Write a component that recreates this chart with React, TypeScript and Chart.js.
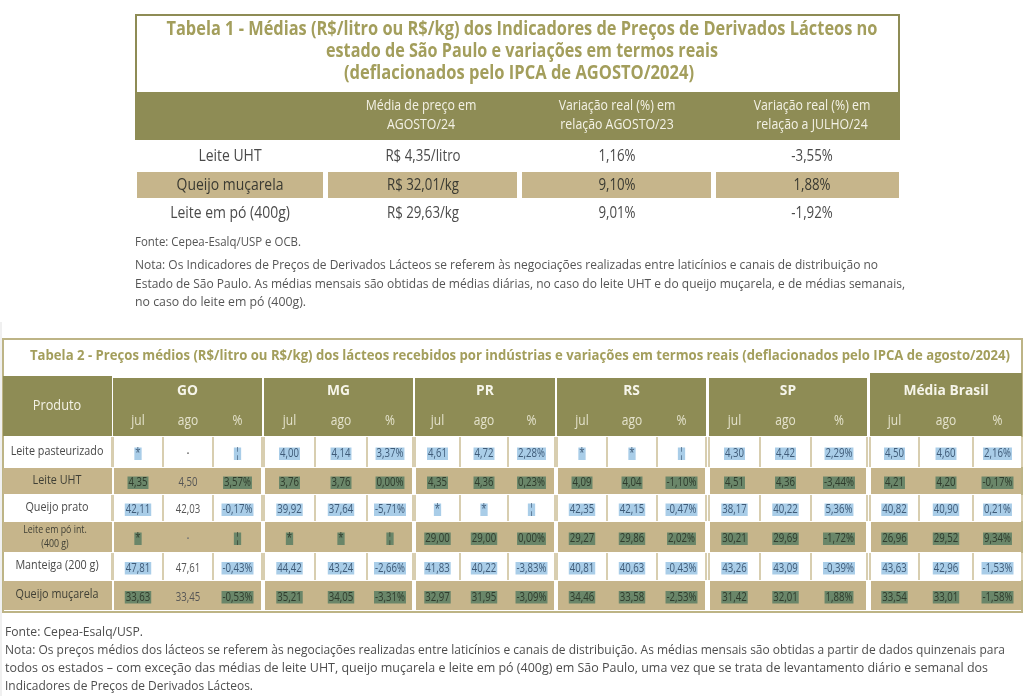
import React, { useEffect, useRef } from 'react';
import { Chart, registerables } from 'chart.js';
Chart.register(...registerables);

// ---------- Tabela 1 data ----------
const T1_TITLE = [
  'Tabela 1 - Médias (R$/litro ou R$/kg) dos Indicadores de Preços de Derivados Lácteos no',
  'estado de São Paulo e variações em termos reais',
  '(deflacionados pelo IPCA de AGOSTO/2024)',
];
const T1_HEADERS = [
  ['Média de preço em', 'AGOSTO/24'],
  ['Variação real (%) em', 'relação AGOSTO/23'],
  ['Variação real (%) em', 'relação a JULHO/24'],
];
const T1_PRODUCTS = ['Leite UHT', 'Queijo muçarela', 'Leite em pó (400g)'];
const T1_PRICE = [4.35, 32.01, 29.63];
const T1_UNIT = ['litro', 'kg', 'kg'];
const T1_VAR_AGO23 = [1.16, 9.1, 9.01];
const T1_VAR_JUL24 = [-3.55, 1.88, -1.92];
const T1_NOTES = [
  'Fonte: Cepea-Esalq/USP e OCB.',
  'Nota: Os Indicadores de Preços de Derivados Lácteos se referem às negociações realizadas entre laticínios e canais de distribuição no',
  'Estado de São Paulo. As médias mensais são obtidas de médias diárias, no caso do leite UHT e do queijo muçarela, e de médias semanais,',
  'no caso do leite em pó (400g).',
];

// ---------- Tabela 2 data ----------
const T2_TITLE =
  'Tabela 2 - Preços médios (R$/litro ou R$/kg) dos lácteos recebidos por indústrias e variações em termos reais (deflacionados pelo IPCA de agosto/2024)';
const T2_PRODUCTS = [
  ['Leite pasteurizado'],
  ['Leite UHT'],
  ['Queijo prato'],
  ['Leite em pó int.', '(400 g)'],
  ['Manteiga (200 g)'],
  ['Queijo muçarela'],
];
const T2_REGIONS = ['GO', 'MG', 'PR', 'RS', 'SP', 'Média Brasil'];
const T2_SUBHEAD = ['jul', 'ago', '%'];

const GO_JUL = [null, 4.35, 42.11, null, 47.81, 33.63];
const GO_AGO = [null, 4.5, 42.03, null, 47.61, 33.45];
const GO_PCT = [null, 3.57, -0.17, null, -0.43, -0.53];
const MG_JUL = [4.0, 3.76, 39.92, null, 44.42, 35.21];
const MG_AGO = [4.14, 3.76, 37.64, null, 43.24, 34.05];
const MG_PCT = [3.37, 0.0, -5.71, null, -2.66, -3.31];
const PR_JUL = [4.61, 4.35, null, 29.0, 41.83, 32.97];
const PR_AGO = [4.72, 4.36, null, 29.0, 40.22, 31.95];
const PR_PCT = [2.28, 0.23, null, 0.0, -3.83, -3.09];
const RS_JUL = [null, 4.09, 42.35, 29.27, 40.81, 34.46];
const RS_AGO = [null, 4.04, 42.15, 29.86, 40.63, 33.58];
const RS_PCT = [null, -1.1, -0.47, 2.02, -0.43, -2.53];
const SP_JUL = [4.3, 4.51, 38.17, 30.21, 43.26, 31.42];
const SP_AGO = [4.42, 4.36, 40.22, 29.69, 43.09, 32.01];
const SP_PCT = [2.29, -3.44, 5.36, -1.72, -0.39, 1.88];
const BR_JUL = [4.5, 4.21, 40.82, 26.96, 43.63, 33.54];
const BR_AGO = [4.6, 4.2, 40.9, 29.52, 42.96, 33.01];
const BR_PCT = [2.16, -0.17, 0.21, 9.34, -1.53, -1.58];

const T2_NOTES = [
  'Fonte: Cepea-Esalq/USP.',
  'Nota: Os preços médios dos lácteos se referem às negociações realizadas entre laticínios e canais de distribuição. As médias mensais são obtidas a partir de dados quinzenais para',
  'todos os estados – com exceção das médias de leite UHT, queijo muçarela e leite em pó (400g) em São Paulo, uma vez que se trata de levantamento diário e semanal dos',
  'Indicadores de Preços de Derivados Lácteos.',
];

// ---------- styling / layout ----------
const FONT = "'Open Sans', 'Noto Sans', sans-serif";
const OLIVE = '#8e8c55';
const TAN = '#c6b58b';
const TITLE_COL = '#a39e5c';
const TEXT = '#4a4a4a';
const LINE = '#d8ceb0';

const fmt = (v: number) => v.toFixed(2).replace('.', ',');

export default function App() {
  const ref = useRef<HTMLCanvasElement | null>(null);
  useEffect(() => {
    document.body.style.margin = '0';
    const canvas = ref.current!;
    const tablePlugin = {
      id: 'tables',
      afterDraw(chart: any) {
        const ctx: CanvasRenderingContext2D = chart.ctx;
        const sx = chart.scales.x;
        const sy = chart.scales.y;
        const X = (v: number) => sx.getPixelForValue(v);
        const Y = (v: number) => sy.getPixelForValue(v);
        const rect = (x0: number, y0: number, x1: number, y1: number, c: string) => {
          ctx.fillStyle = c;
          ctx.fillRect(X(x0), Y(y0), X(x1) - X(x0), Y(y1) - Y(y0));
        };
        const vline = (x: number, y0: number, y1: number, c: string, w = 2) => {
          ctx.fillStyle = c;
          ctx.fillRect(X(x) - w / 2, Y(y0), w, Y(y1) - Y(y0));
        };
        const txt = (
          s: string, x: number, y: number,
          o: { size: number; weight?: string; color?: string; align?: CanvasTextAlign; cond?: number; width?: number }
        ) => {
          ctx.save();
          ctx.font = `${o.weight || 'normal'} ${o.size}px ${FONT}`;
          ctx.fillStyle = o.color || TEXT;
          ctx.textAlign = o.align || 'center';
          ctx.textBaseline = 'middle';
          const w = ctx.measureText(s).width;
          const k = o.width !== undefined ? o.width / w : (o.cond ?? 0.82);
          ctx.translate(X(x), Y(y));
          ctx.scale(k, 1);
          ctx.fillText(s, 0, 0);
          ctx.restore();
          return w * k;
        };
        const measure = (s: string, size: number, cond = 0.82, weight = 'normal') => {
          ctx.save();
          ctx.font = `${weight} ${size}px ${FONT}`;
          const w = ctx.measureText(s).width * cond;
          ctx.restore();
          return w;
        };

        rect(0, 0, 1024, 696, '#ffffff');

        // ================= Tabela 1 =================
        ctx.strokeStyle = OLIVE;
        ctx.lineWidth = 2;
        ctx.strokeRect(X(136), Y(15), X(899) - X(136), Y(93) - Y(15));
        txt(T1_TITLE[0], 522, 30, { size: 19, weight: 'bold', color: TITLE_COL, width: 711 });
        txt(T1_TITLE[1], 522, 52, { size: 19, weight: 'bold', color: TITLE_COL, width: 392 });
        txt(T1_TITLE[2], 519, 74, { size: 19, weight: 'bold', color: TITLE_COL, width: 350 });
        rect(135, 92, 900, 140, OLIVE);
        const t1Centers = [230, 421, 617, 812];
        T1_HEADERS.forEach((h, i) => {
          txt(h[0], t1Centers[i + 1], 106, { size: 14.5, color: '#f4f2e6', cond: 0.85 });
          txt(h[1], t1Centers[i + 1], 125, { size: 14.5, color: '#f4f2e6', cond: 0.85 });
        });
        const t1Cells = [[137, 323], [328, 517], [522, 711], [716, 899]];
        const t1RowY = [156, 185, 213];
        T1_PRODUCTS.forEach((p, r) => {
          if (r === 1) t1Cells.forEach(([a, b]) => rect(a, 172, b, 198, TAN));
          const y = t1RowY[r];
          const c = r === 1 ? '#3a3a32' : TEXT;
          txt(p, t1Centers[0], y, { size: 17, color: c, cond: 0.82 });
          txt(`R$ ${fmt(T1_PRICE[r])}/${T1_UNIT[r]}`, t1Centers[1] + 2, y, { size: 16, color: c, cond: 0.83 });
          txt(`${fmt(T1_VAR_AGO23[r])}%`, t1Centers[2], y, { size: 16, color: c, cond: 0.83 });
          txt(`${fmt(T1_VAR_JUL24[r])}%`, t1Centers[3], y, { size: 16, color: c, cond: 0.83 });
        });
        const n1Y = [242, 265, 284, 302];
        const n1W = [166, 743, 770, 171];
        T1_NOTES.forEach((s, i) =>
          txt(s, 135, n1Y[i], { size: 13.5, color: '#555', align: 'left', width: n1W[i] })
        );

        // ================= Tabela 2 =================
        vline(1, 322, 696, '#e2e2e2', 1);
        ctx.strokeStyle = '#bdb486';
        ctx.lineWidth = 2;
        ctx.strokeRect(X(3), Y(339), X(1022) - X(3), Y(612) - Y(339));
        txt(T2_TITLE, 520, 356, { size: 14, weight: 'bold', color: TITLE_COL, width: 980 });

        const groups = [[113, 262], [264, 413], [415, 555], [557, 706], [709, 867], [870, 1022]];
        const sub = [
          [113, 163, 213, 262], [264, 315, 367, 413], [415, 460, 508, 555],
          [557, 607, 657, 706], [709, 760, 811, 867], [870, 919, 973, 1022],
        ];
        rect(3, 376, 112, 436, OLIVE);
        txt('Produto', 57, 406, { size: 15, color: '#f4f2e6', cond: 0.85 });
        groups.forEach(([a, b], g) => {
          rect(a, g === 5 ? 373 : 378, b, 436, OLIVE);
          txt(T2_REGIONS[g], (a + b) / 2, 391, { size: 15, weight: 'bold', color: '#f6f5ea', cond: 0.92 });
          for (let k = 0; k < 3; k++) {
            txt(T2_SUBHEAD[k], (sub[g][k] + sub[g][k + 1]) / 2, 421, { size: 15, color: '#e4e2cc', cond: 0.8 });
          }
        });

        const rows = [[437, 467], [468, 494], [495, 521], [522, 552], [553, 580], [581, 610]];
        const jul = [GO_JUL, MG_JUL, PR_JUL, RS_JUL, SP_JUL, BR_JUL];
        const ago = [GO_AGO, MG_AGO, PR_AGO, RS_AGO, SP_AGO, BR_AGO];
        const pct = [GO_PCT, MG_PCT, PR_PCT, RS_PCT, SP_PCT, BR_PCT];

        rows.forEach(([y0, y1], r) => {
          const tan = r % 2 === 1;
          if (tan) {
            rect(3, y0, 112, y1, TAN);
            groups.forEach(([a, b]) => rect(a + 1, y0, b - 1, y1, TAN));
          } else {
            vline(112, y0, y1, LINE);
            sub.forEach((cols) => cols.forEach((x) => vline(x, y0, y1, LINE)));
          }
          const yc = (y0 + y1) / 2;
          const lab = T2_PRODUCTS[r];
          const lc = tan ? '#3f3f35' : TEXT;
          if (lab.length === 1) {
            txt(lab[0], 57, yc - 1, { size: 13.5, color: lc, cond: 0.8 });
          } else {
            txt(lab[0], 55, yc - 7, { size: 11, color: lc, cond: 0.8 });
            txt(lab[1], 55, yc + 7, { size: 11, color: lc, cond: 0.8 });
          }
          groups.forEach((_, g) => {
            const vals = [jul[g][r], ago[g][r], pct[g][r]];
            vals.forEach((v, k) => {
              const cx = (sub[g][k] + sub[g][k + 1]) / 2;
              const vy = yc + 2;
              let s: string;
              if (v === null) s = k === 2 ? '¦' : '*';
              else s = k === 2 ? `${fmt(v)}%` : fmt(v);
              const hl = !(g === 0 && k === 1);
              const size = 12;
              const w = measure(s, size, 0.8);
              if (hl) {
                rect(cx - w / 2 - 1, vy - 6.5, cx + w / 2 + 1, vy + 6, tan ? '#6a8669' : '#a9cde8');
              }
              const col = hl ? (tan ? '#2f3b2c' : '#3f5b78') : '#555';
              if (!hl && v === null) {
                txt('•', cx, vy, { size: 8, color: '#777', cond: 1 });
              } else {
                txt(s, cx, vy, { size, color: col, cond: 0.8 });
              }
            });
          });
        });

        const n2Y = [632, 650, 668, 686];
        const n2W = [138, 1000, 983, 248];
        T2_NOTES.forEach((s, i) =>
          txt(s, 5, n2Y[i], { size: 13, color: '#4d4d4d', align: 'left', width: n2W[i] })
        );
      },
    };

    const chart = new Chart(canvas, {
      type: 'scatter',
      data: { datasets: [{ data: [], pointRadius: 0 }] },
      options: {
        animation: false,
        responsive: false,
        events: [],
        layout: { padding: 0 },
        plugins: { legend: { display: false }, tooltip: { enabled: false } },
        scales: {
          x: { type: 'linear', min: 0, max: 1024, display: false },
          y: { type: 'linear', min: 0, max: 696, reverse: true, display: false },
        },
      },
      plugins: [tablePlugin],
    });
    return () => chart.destroy();
  }, []);

  return (
    <div style={{ position: 'absolute', left: 0, top: 0, width: 1024, height: 696 }}>
      <canvas ref={ref} width={1024} height={696} style={{ display: 'block' }} />
    </div>
  );
}
